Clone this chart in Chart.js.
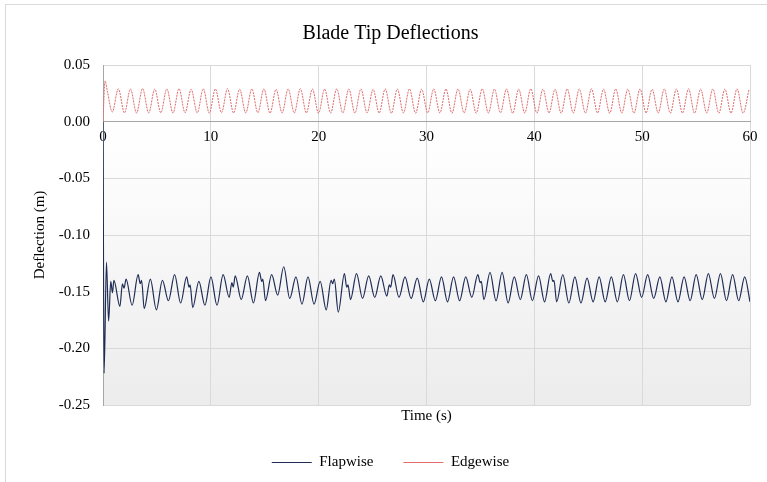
<!DOCTYPE html>
<html lang="en">

<head>
    <meta charset="UTF-8">
    <title>Blade Tip Deflections</title>
    <script src="https://cdn.jsdelivr.net/npm/chart.js"></script>
    <style>
        body {
            margin: 0;
            background: #ffffff;
        }

        #wrap {
            position: relative;
            width: 767px;
            height: 482px;
        }

        #frame {
            position: absolute;
            left: 5px;
            top: 4px;
            right: 0;
            bottom: 0;
            border-left: 1px solid #d9d9d9;
            border-top: 1px solid #d9d9d9;
            pointer-events: none;
        }
    </style>
</head>

<body>
    <div id="wrap">
        <canvas id="deflectionChart"></canvas>
        <div id="frame"></div>
    </div>

    <script>
        // Axis ticks
        const xTicks = [0, 10, 20, 30, 40, 50, 60];
        const yTicks = [-0.25, -0.20, -0.15, -0.10, -0.05, 0.00, 0.05];

        // Flapwise tip deflection (m)
        const flapTime = [
            0, 0.10, 0.32, 0.52, 0.72, 0.88, 1.01, 1.57, 1.80, 1.95,
            2.14, 2.70, 3.26, 3.45, 3.58, 3.82, 4.39, 4.95, 5.51, 6.07,
            6.64, 7.20, 7.76, 7.98, 8.08, 8.32, 8.89, 9.45, 10.01, 10.57,
            11.14, 11.70, 11.95, 12.08, 12.26, 12.82, 13.39, 13.95, 14.51, 14.72,
            14.82, 15.07, 15.64, 16.20, 16.76, 17.32, 17.89, 18.45, 19.01, 19.57,
            20.14, 20.70, 21.15, 21.30, 21.45, 21.82, 22.39, 22.60, 22.72, 22.95,
            23.51, 24.07, 24.64, 25.20, 25.76, 26.32, 26.55, 26.68, 26.89, 27.45,
            28.01, 28.57, 29.14, 29.70, 30.26, 30.82, 31.39, 31.95, 32.51, 33.07,
            33.64, 34.20, 34.76, 34.98, 35.08, 35.32, 35.89, 36.45, 37.01, 37.57,
            38.14, 38.70, 39.26, 39.82, 40.39, 40.95, 41.51, 41.72, 41.82, 42.07,
            42.64, 43.20, 43.76, 44.32, 44.89, 45.45, 46.01, 46.57, 47.14, 47.70,
            48.26, 48.82, 49.39, 49.95, 50.51, 51.07, 51.64, 52.20, 52.76, 53.32,
            53.89, 54.45, 55.01, 55.57, 56.14, 56.70, 57.26, 57.82, 58.39, 58.95,
            59.51, 60.00
        ];
        const flapDeflection = [
            0, -0.222, -0.124, -0.176, -0.141, -0.151, -0.140, -0.163, -0.143, -0.147,
            -0.139, -0.162, -0.135, -0.143, -0.140, -0.165, -0.139, -0.166, -0.140, -0.158,
            -0.135, -0.160, -0.137, -0.146, -0.144, -0.164, -0.141, -0.162, -0.137, -0.162,
            -0.135, -0.155, -0.142, -0.146, -0.136, -0.157, -0.136, -0.160, -0.133, -0.141,
            -0.139, -0.158, -0.135, -0.153, -0.128, -0.156, -0.137, -0.161, -0.137, -0.161,
            -0.141, -0.166, -0.140, -0.143, -0.139, -0.168, -0.134, -0.146, -0.144, -0.157,
            -0.134, -0.156, -0.136, -0.155, -0.136, -0.154, -0.144, -0.146, -0.135, -0.155,
            -0.137, -0.156, -0.138, -0.159, -0.139, -0.158, -0.137, -0.159, -0.137, -0.158,
            -0.137, -0.155, -0.135, -0.142, -0.141, -0.157, -0.133, -0.158, -0.133, -0.160,
            -0.137, -0.157, -0.135, -0.158, -0.136, -0.159, -0.134, -0.141, -0.140, -0.159,
            -0.135, -0.160, -0.137, -0.160, -0.138, -0.159, -0.137, -0.159, -0.137, -0.159,
            -0.135, -0.158, -0.134, -0.155, -0.135, -0.156, -0.137, -0.159, -0.137, -0.159,
            -0.137, -0.158, -0.135, -0.157, -0.134, -0.156, -0.134, -0.158, -0.135, -0.158,
            -0.137, -0.159
        ];

        // Edgewise tip deflection (m)
        const edgeTime = [
            0, 0.19, 0.42, 0.86, 1.42, 1.99, 2.55, 3.11, 3.67, 4.24,
            4.80, 5.36, 5.92, 6.49, 7.05, 7.61, 8.17, 8.74, 9.30, 9.86,
            10.42, 10.99, 11.55, 12.11, 12.67, 13.24, 13.80, 14.36, 14.92, 15.49,
            16.05, 16.61, 17.17, 17.74, 18.30, 18.86, 19.42, 19.99, 20.55, 21.11,
            21.67, 22.24, 22.80, 23.36, 23.92, 24.49, 25.05, 25.61, 26.17, 26.74,
            27.30, 27.86, 28.42, 28.99, 29.55, 30.11, 30.67, 31.24, 31.80, 32.36,
            32.92, 33.49, 34.05, 34.61, 35.17, 35.74, 36.30, 36.86, 37.42, 37.99,
            38.55, 39.11, 39.67, 40.24, 40.80, 41.36, 41.92, 42.49, 43.05, 43.61,
            44.17, 44.74, 45.30, 45.86, 46.42, 46.99, 47.55, 48.11, 48.67, 49.24,
            49.80, 50.36, 50.92, 51.49, 52.05, 52.61, 53.17, 53.74, 54.30, 54.86,
            55.42, 55.99, 56.55, 57.11, 57.67, 58.24, 58.80, 59.36, 59.92
        ];
        const edgeDeflection = [
            0, 0.036, 0.026, 0.0085, 0.0290, 0.0078, 0.0288, 0.0076, 0.0292, 0.0077,
            0.0287, 0.0079, 0.0289, 0.0076, 0.0291, 0.0078, 0.0286, 0.0077, 0.0290, 0.0075,
            0.0288, 0.0079, 0.0291, 0.0077, 0.0287, 0.0076, 0.0289, 0.0078, 0.0290, 0.0075,
            0.0286, 0.0077, 0.0289, 0.0076, 0.0291, 0.0078, 0.0288, 0.0074, 0.0287, 0.0076,
            0.0290, 0.0077, 0.0288, 0.0075, 0.0289, 0.0078, 0.0286, 0.0076, 0.0290, 0.0074,
            0.0288, 0.0077, 0.0289, 0.0075, 0.0287, 0.0078, 0.0290, 0.0076, 0.0288, 0.0074,
            0.0289, 0.0077, 0.0286, 0.0075, 0.0290, 0.0076, 0.0288, 0.0078, 0.0289, 0.0074,
            0.0287, 0.0076, 0.0290, 0.0075, 0.0288, 0.0077, 0.0286, 0.0074, 0.0289, 0.0076,
            0.0288, 0.0075, 0.0290, 0.0077, 0.0287, 0.0074, 0.0289, 0.0076, 0.0288, 0.0075,
            0.0290, 0.0077, 0.0286, 0.0076, 0.0289, 0.0074, 0.0288, 0.0076, 0.0290, 0.0075,
            0.0287, 0.0077, 0.0289, 0.0074, 0.0288, 0.0076, 0.0290, 0.0075, 0.0288
        ];

        const serif = 'Liberation Serif';

        // light grey fade behind the plot, like the office chart
        const plotFade = {
            id: 'plotFade',
            beforeDraw(chart) {
                const { ctx, chartArea: a } = chart;
                const g = ctx.createLinearGradient(0, a.top, 0, a.bottom);
                g.addColorStop(0, '#ffffff');
                g.addColorStop(0.3, '#fdfdfd');
                g.addColorStop(1, '#ececec');
                ctx.save();
                ctx.fillStyle = g;
                ctx.fillRect(a.left, a.top, a.right - a.left, a.bottom - a.top);
                ctx.restore();
            }
        };

        const toPoints = (xs, ys) => xs.map((x, i) => ({ x: x, y: ys[i] }));

        new Chart(document.getElementById('deflectionChart'), {
            type: 'line',
            data: {
                datasets: [{
                    label: 'Flapwise',
                    data: toPoints(flapTime, flapDeflection),
                    borderColor: '#1f2c56',
                    borderWidth: 1.2,
                    pointRadius: 0,
                    cubicInterpolationMode: 'monotone'
                }, {
                    label: 'Edgewise',
                    data: toPoints(edgeTime, edgeDeflection),
                    borderColor: '#e06c6c',
                    borderWidth: 1,
                    borderDash: [2, 1],
                    pointRadius: 0,
                    cubicInterpolationMode: 'monotone'
                }]
            },
            options: {
                responsive: true,
                maintainAspectRatio: false,
                animation: false,
                layout: { padding: { left: 31, right: 17, top: 0, bottom: 2 } },
                scales: {
                    x: {
                        type: 'linear',
                        min: 0,
                        max: 60,
                        position: { y: 0 },
                        afterBuildTicks: scale => { scale.ticks = xTicks.map(v => ({ value: v })); },
                        ticks: { color: '#000', font: { family: serif, size: 15 }, padding: 6 },
                        grid: { color: '#d9d9d9', drawTicks: false },
                        border: { color: '#a6a6a6' }
                    },
                    xTitle: {
                        type: 'linear',
                        axis: 'x',
                        position: 'bottom',
                        min: 0,
                        max: 60,
                        ticks: { display: false },
                        grid: { display: false, drawTicks: false },
                        border: { display: false },
                        title: {
                            display: true,
                            text: 'Time (s)',
                            color: '#000',
                            font: { family: serif, size: 15 },
                            padding: { top: 2, bottom: 0 }
                        }
                    },
                    y: {
                        min: -0.25,
                        max: 0.05,
                        afterBuildTicks: scale => { scale.ticks = yTicks.map(v => ({ value: v })); },
                        afterFit: scale => { scale.width = 72; },
                        ticks: {
                            color: '#000',
                            font: { family: serif, size: 15 },
                            padding: 13,
                            callback: v => (Math.abs(v) < 1e-9 ? 0 : v).toFixed(2)
                        },
                        grid: { color: '#d9d9d9', drawTicks: false },
                        border: { color: '#a6a6a6' },
                        title: {
                            display: true,
                            text: 'Deflection (m)',
                            color: '#000',
                            font: { family: serif, size: 15 },
                            padding: { top: 0, bottom: 0 }
                        }
                    }
                },
                plugins: {
                    title: {
                        display: true,
                        text: 'Blade Tip Deflections',
                        color: '#000',
                        font: { family: serif, size: 20, weight: 'normal' },
                        padding: { top: 22, bottom: 19 }
                    },
                    legend: {
                        position: 'bottom',
                        labels: {
                            color: '#000',
                            font: { family: serif, size: 15 },
                            usePointStyle: true,
                            pointStyle: 'line',
                            pointStyleWidth: 40,
                            boxWidth: 40,
                            padding: 30
                        }
                    },
                    tooltip: { enabled: false }
                }
            },
            plugins: [plotFade]
        });
    </script>
</body>

</html>
